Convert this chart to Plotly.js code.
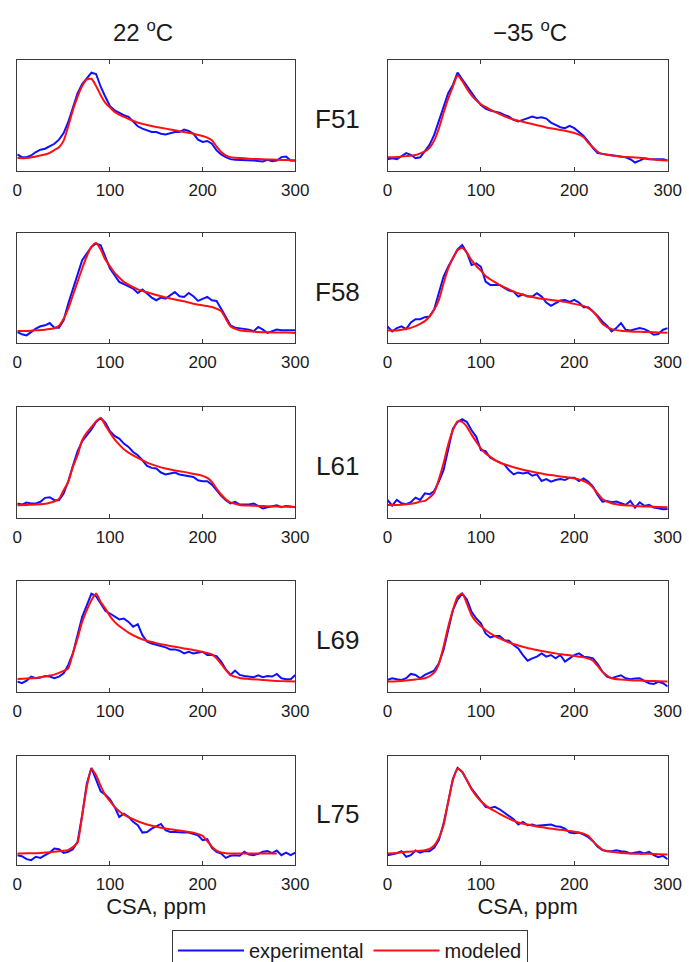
<!DOCTYPE html>
<html>
<head>
<meta charset="utf-8">
<script src="https://cdn.plot.ly/plotly-3.0.1.min.js"></script>
<style>html,body{margin:0;padding:0;background:#fff;}#chart{width:689px;height:962px;}</style>
</head>
<body>
<div id="chart"></div>
<script>
// ---------- DATA ----------
const TEMPS = ["22 <sup>o</sup>C", "\u221235 <sup>o</sup>C"];
const RESIDUES = ["F51", "F58", "L61", "L69", "L75"];
const TICK_VALUES = [0, 100, 200, 300];
const TICK_LABELS = ["0", "100", "200", "300"];
const X_TITLE = "CSA, ppm";
const SERIES_NAMES = ["experimental", "modeled"];

// chemical shift grid of experimental spectra (ppm)
const CSA = [0,5,10,15,20,25,30,35,40,45,50,55,60,65,70,75,80,85,90,95,100,105,110,115,120,125,130,135,140,145,150,155,160,165,170,175,180,185,190,195,200,205,210,215,220,225,230,235,240,245,250,255,260,265,270,275,280,285,290,295,300];
// chemical shift grid of modeled spectra (ppm)
const CSA_MODEL = [0,10,20,30,35,40,45,50,55,60,65,70,75,80,85,90,95,100,105,110,115,120,130,140,150,160,170,180,190,200,205,210,215,220,225,230,240,250,260,270,280,290,300];

// experimental intensities (arb. units)
const exp22_F51 = [14.5,12.1,12.1,13.6,16.7,18.8,19.7,21.8,24.2,27.9,33.9,43.9,57.6,69.7,78.2,83.3,88.5,87.3,75.8,66.7,58.2,54.5,52.1,50,48.5,43.9,40,37.9,36.4,34.8,34.8,33.3,32.7,33.9,34.8,34.8,37,35.8,33.3,27.9,25.8,26.7,24.2,18.2,14.5,12.1,10.3,9.7,9.7,9.7,9.7,9.1,8.5,8.2,9.7,8.5,9.1,12.1,12.7,9.1,9.1];
const exp35_F51 = [10.2,11.1,10.2,12.7,15.7,14.2,11.1,12,17.2,23.2,32.2,44.3,57.8,69.9,77.4,88.6,82.5,76.5,69.9,64.5,59.3,56,54.2,53,52.4,50.3,48.8,45.8,44.3,45.8,47.3,48.8,47.6,48.2,47,43.4,41.3,39.2,38.3,40.4,38.3,35.2,31.3,26.2,20.2,15.7,15.1,14.2,13.9,13.3,12.7,12,10.2,7.2,9,11.1,10.2,10.2,10.8,10.2,9];
const exp22_F58 = [10,7.9,6.9,10,13,15.1,16,18.1,13.9,13.9,20.5,35.6,49.2,62.8,74.9,81,87,90,88.5,77.9,67.4,61.3,55.3,53.2,51.4,49.2,45.3,48.3,44.7,41.1,38.7,41.1,40.2,43.2,46.2,42.3,41.7,45.3,42.3,38.1,40.2,41.7,38.7,38.1,31.1,23.6,16,13.9,13.3,12.7,12.1,10.6,14.5,12.1,9.1,10.6,12.1,11.5,11.5,10.9,11.5];
const exp35_F58 = [15,10.5,13.5,15,12.6,18.6,21.6,21.6,23.4,24,30.6,46.5,60,69,76.6,84.7,88.6,81.7,70.6,72.1,69,55.6,52.6,52.6,52.6,49.8,47.4,46.5,42,44.1,42,42,45,42,36.6,33.6,36,38.4,39,37.2,39,36.6,32.4,32.4,28.5,24.6,19.5,15.6,10.5,13.5,18,12,11.4,12.6,13.5,12.6,10.5,7.5,8.1,12,13.5];
const exp22_L61 = [12.7,11.7,13.6,12.7,12.7,14.2,17.8,18.4,15.7,15.7,21.7,32.8,46.7,59.9,69,74.4,79.8,86.4,90,85.8,78,73.8,71.4,66.9,63.9,59.3,56.3,51.8,46.7,44.9,44.3,40.7,38.9,39.8,40.7,38.9,38.3,37.7,36.7,33.7,32.8,32.8,29.8,24.7,19.6,15.7,12.7,14.2,11.7,11.7,11.7,12.7,10.5,8.1,9.3,9.9,11.1,9.3,10.5,9.9,9.3];
const exp35_L61 = [15.9,10.8,15.9,12.9,12,13.8,18,15.9,21.9,21,24,32.4,42.9,62.5,80.5,86.5,88.9,86.5,79,73,61,60,54,52,49.8,48,42.9,39,40.8,39.9,40.8,37.8,39,33,34.8,32.4,33.9,34.8,33.9,36,36,33,35.4,32.4,27.9,20.4,14.4,15,13.8,14.4,12.9,11.4,15,9,13.8,10.5,11.4,9,8.4,7.5,7.8];
const exp22_L69 = [9,7.5,9.9,13.5,12,12.6,14.1,13.5,12,13.5,16.5,24,34.5,51,67.6,78,88.6,86.2,79,73,70.6,67.6,65.2,66.1,63,58.6,61,51,45,43.5,42.6,41.1,39.9,38.1,38.1,36.9,34.5,36,34.5,35.1,36,33,33,32.1,27,20.1,15,18.9,15,14.1,13.5,12.9,14.7,12.9,14.1,13.5,15.9,12,11.1,11.1,15];
const exp35_L69 = [10.5,12,11.1,10.5,12,15.9,15,12,15,17.1,18.9,25.5,37.5,55.6,73.6,83.2,88.6,83.2,72.1,66.1,61.6,52.6,48.9,50.2,50.2,46.5,45.9,42,39,33,27.9,30,31.5,34.5,31.5,33,30,33,27,30,33,34.5,31.5,30.9,30,24.9,18,13.5,12,13.5,14.7,12,11.1,11.7,12,9.6,7.5,6.9,8.7,7.5,4.5];
const exp22_L75 = [8.6,7.7,4.9,4,7.1,6.1,8.6,11,14.7,14.1,10.7,11.7,14.1,20.9,45.4,74.5,89,77.6,67.5,64.4,60.1,53.1,43.9,46.9,43.9,39.3,36.2,29.4,30,33.1,35.6,37.4,31.6,30,30,29.4,29.4,29.4,28.5,27,22.4,23.3,15.3,11.7,10.1,6.1,8,8.6,8,11.7,9.2,8.6,9.8,11.7,12.3,10.4,12.9,8.6,11,8.6,11];
const exp35_L75 = [8.6,9.5,10.4,12.3,7.1,8.6,12.9,11,12.3,12.3,15.3,22.4,37.7,57.7,79.1,89,85.3,77.6,69.9,64.4,58.3,53.1,52.1,53.1,50.9,47.9,44.8,41.7,36.8,39.3,36.2,36.8,35.6,36.2,36.2,36.8,35.3,34.7,33.1,29.4,28.8,29.4,27.6,25.2,21.5,16.3,13.2,12.3,12.3,13.2,12.3,11.7,10.1,10.7,11.7,10.1,11.7,8.6,6.7,8,4.9];

// modeled intensities (arb. units)
const mod22_F51 = [11.2,11.2,12.7,14.5,16,18.5,21,27,40,54.5,66.7,76.4,82.4,83,76.4,68.2,61.2,57,53,50.6,48.5,46.7,43.3,41.2,39.4,37.9,36.4,34.8,33.3,31.2,29.7,27.3,21.8,16.7,13.6,12.1,11.2,10.6,10.3,10,9.7,9.4,9.1];
const mod35_F51 = [12,12.3,13,14,15.5,17.2,20.5,27,38,52,65,76,86,81,74,68,63.5,60,57.5,55,53,51,47.5,45,43,41,39,37.5,36,34,32.5,30,25,21,17,15,13.5,12.5,12,11.5,10.5,9.5,9];
const mod22_F58 = [10.9,10.9,11.5,12.1,12.6,13.3,15.7,22,31.1,43.2,55.3,67.4,78.5,87,90.6,84.6,75.5,69.5,63.4,59.2,55.3,52.9,48.6,45.9,43.5,41.1,39.3,37.8,35.6,34.1,33.4,32.6,31.1,29,22,15.1,11.5,10.6,10,9.7,9.4,9.4,9.1];
const mod35_F58 = [11.4,11.4,12.6,15.3,17.4,19.8,24,30,39,54,67.6,76.6,84,86.2,81.7,75,69.7,65.5,60.7,57.7,55,52.6,48.6,45,42.6,40.8,39.6,38.4,37.2,35.4,34.5,33.6,31.5,28.5,23.4,17.4,12.6,11.1,10.5,10.2,9.9,9.6,9.3];
const mod22_L61 = [11.1,11.4,11.7,12.4,13.3,14.5,16.9,24.7,32.2,45.8,56.3,69.9,76.8,81.9,87,90,83.4,76.8,70.8,66,61.7,58.7,53.9,49.7,46.7,44.3,42.5,41.3,39.5,37.7,35.8,32.2,26.2,20.8,16.6,13.6,11.4,10.8,10.5,10.2,9.9,9.7,9.6];
const mod35_L61 = [11.4,11.4,12,13.2,14.4,15,18,22.5,34.5,49,66,79,87,86.5,82,75,68.5,62.5,58,55,52,49.8,46.8,44.4,42.3,40.5,39,37.8,36.6,35.4,34.5,33,30.9,27,21.9,16.8,12.9,11.4,10.8,10.2,9.9,9.6,9.3];
const mod22_L69 = [11.4,11.7,12.3,13.5,14.4,15.3,16.8,18.6,21,34.5,48,63,73.6,82.6,88.6,81,75,68.2,63,59.2,56.2,53.2,48.9,45.9,43.8,42,40.5,39,37.5,35.7,34.8,33.6,30,24.9,19.5,15,12.3,11.4,10.8,10.2,9.6,9.3,9];
const mod35_L69 = [9,9.3,9.9,10.8,11.4,12,13.8,17,25,40.5,58.6,73.6,85.6,88.6,79.6,69,63,59.2,55.6,52.6,50.2,48,44.4,41.7,39.3,37.5,36,34.5,33.3,32.1,31.5,30.9,29.7,27.9,23.1,18,12,10.8,10.2,9.9,9.6,9.3,9];
const mod22_L75 = [10.1,10.4,10.4,11,11.3,11.7,12.1,12.6,13.5,16,20.2,45.4,71.5,88.3,82.2,72.4,63.8,58.3,53.1,49.1,46,43.6,39.9,36.8,34.7,33.1,31.9,30.7,29.4,26.4,21.5,16.5,12.8,11,10.4,10.1,10.1,10.1,10.1,10.1,10.1,null,null];
const mod35_L75 = [10.1,10.6,11.7,12.3,12.7,13.2,14.4,17.5,24.5,36.2,57.7,77.6,88.3,85.3,77.6,69.3,63.2,58.3,54.6,51.5,49.1,46.6,42.3,38.7,36.8,35,33.7,32.5,31.6,30.1,29.4,28.5,26.4,21.5,17.2,13.8,11.7,10.7,10.1,9.8,9.8,9.5,9.2];

// panels: [row][col] -> [experimental, modeled]
const PANEL_DATA = [
  [[exp22_F51, mod22_F51], [exp35_F51, mod35_F51]],
  [[exp22_F58, mod22_F58], [exp35_F58, mod35_F58]],
  [[exp22_L61, mod22_L61], [exp35_L61, mod35_L61]],
  [[exp22_L69, mod22_L69], [exp35_L69, mod35_L69]],
  [[exp22_L75, mod22_L75], [exp35_L75, mod35_L75]]
];

// ---------- LAYOUT ----------
const W = 689, H = 962;
const FONT = "Liberation Sans, Arial, Helvetica, sans-serif";
const TXT = "#1a1a1a";
const FRAME = "#3a3a3a";
const colPx = [[17.3, 295.3], [387.5, 667.7]];
const rowPx = [[60, 170.5], [232.5, 343], [407, 517.5], [581, 691.5], [756, 864.5]];

const traces = [];
const layout = {
  width: W, height: H,
  margin: {l: 0, r: 0, t: 0, b: 0, pad: 0, autoexpand: false},
  paper_bgcolor: "#ffffff",
  plot_bgcolor: "#ffffff",
  showlegend: true,
  legend: {
    orientation: "h",
    x: 172 / W, y: 1 - 930 / H, xanchor: "left", yanchor: "top",
    bordercolor: FRAME, borderwidth: 1, bgcolor: "#ffffff",
    font: {family: FONT, size: 20, color: TXT},
    itemwidth: 66, traceorder: "normal"
  },
  annotations: [],
  font: {family: FONT, color: TXT}
};

for (let r = 0; r < 5; r++) {
  for (let c = 0; c < 2; c++) {
    const k = r * 2 + c + 1;
    const xs = k === 1 ? "" : String(k);
    const [expY, modY] = PANEL_DATA[r][c];
    traces.push({
      x: CSA, y: expY, xaxis: "x" + xs, yaxis: "y" + xs,
      type: "scatter", mode: "lines", name: SERIES_NAMES[0],
      line: {color: "#1010ff", width: 2},
      showlegend: k === 1, legendgroup: "exp", hoverinfo: "skip"
    });
    traces.push({
      x: CSA_MODEL, y: modY, xaxis: "x" + xs, yaxis: "y" + xs,
      type: "scatter", mode: "lines", name: SERIES_NAMES[1],
      line: {color: "#ff1010", width: 2, shape: "spline", smoothing: 0.6},
      connectgaps: false,
      showlegend: k === 1, legendgroup: "mod", hoverinfo: "skip"
    });
    const xd = [colPx[c][0] / W, colPx[c][1] / W];
    const yd = [1 - rowPx[r][1] / H, 1 - rowPx[r][0] / H];
    const xa = {
      domain: xd, anchor: "y" + xs, range: [0, 300],
      tickmode: "array", tickvals: TICK_VALUES, ticktext: TICK_LABELS,
      ticks: "inside", ticklen: 4, tickwidth: 1, tickcolor: FRAME,
      showline: true, linecolor: FRAME, linewidth: 1, mirror: "ticks",
      showgrid: false, zeroline: false, ticklabelstandoff: 4,
      tickfont: {family: FONT, size: 17, color: TXT}
    };
    if (r === 4) {
      xa.title = {text: X_TITLE, font: {family: FONT, size: 22, color: TXT}, standoff: 5};
    }
    layout["xaxis" + xs] = xa;
    layout["yaxis" + xs] = {
      domain: yd, anchor: "x" + xs, range: [0, 100],
      showticklabels: false, ticks: "",
      showline: true, linecolor: FRAME, linewidth: 1, mirror: true,
      showgrid: false, zeroline: false
    };
  }
  // residue label
  layout.annotations.push({
    text: RESIDUES[r], xref: "paper", yref: "paper",
    x: 337 / W, y: 1 - ((rowPx[r][0] + rowPx[r][1]) / 2 + 4) / H,
    xanchor: "center", yanchor: "middle", showarrow: false,
    font: {family: FONT, size: 26, color: TXT}
  });
}
// column titles
const titleX = [142.5, 529.5];
for (let c = 0; c < 2; c++) {
  layout.annotations.push({
    text: TEMPS[c], xref: "paper", yref: "paper",
    x: titleX[c] / W, y: 1 - 31 / H, xanchor: "center", yanchor: "middle",
    showarrow: false, font: {family: FONT, size: 24, color: TXT}
  });
}

Plotly.newPlot("chart", traces, layout, {displayModeBar: false, staticPlot: true});
</script>
</body>
</html>
